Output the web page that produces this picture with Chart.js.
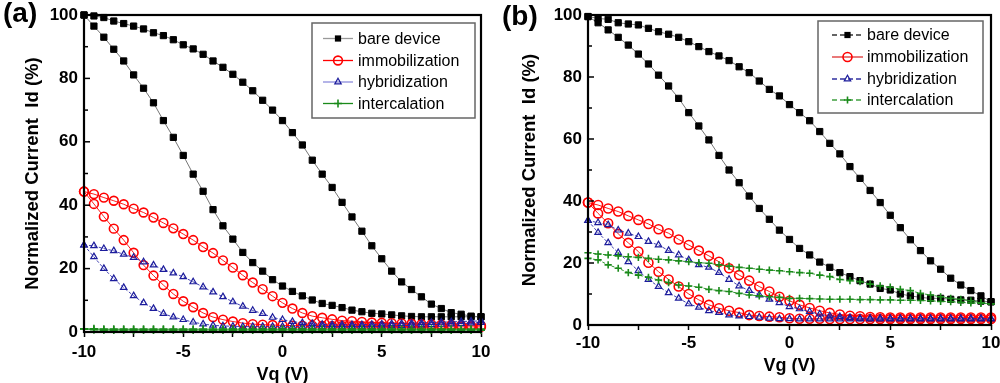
<!DOCTYPE html>
<html>
<head>
<meta charset="utf-8">
<script src="https://cdn.jsdelivr.net/npm/chart.js@4/dist/chart.umd.min.js"></script>
<style>
  html, body { margin:0; padding:0; background:#fff; overflow:hidden; }
  #wrap { position:relative; width:1000px; height:383px; }
  canvas { position:absolute; top:0; }
  .lab { position:absolute; font-family:"Liberation Sans", Arial, sans-serif; font-weight:bold; font-size:28px; line-height:28px; color:#000; }
</style>
</head>
<body>
<div id="wrap">
  <canvas id="ca" width="500" height="383" style="left:0;width:500px;height:383px"></canvas>
  <canvas id="cb" width="500" height="383" style="left:500px;width:500px;height:383px"></canvas>
  <div class="lab" style="left:3px;top:-1px">(a)</div>
  <div class="lab" style="left:502px;top:2px">(b)</div>
</div>
<script>
// ---------------- data ----------------
const vg = [-10,-9.5,-9,-8.5,-8,-7.5,-7,-6.5,-6,-5.5,-5,-4.5,-4,-3.5,-3,-2.5,-2,-1.5,-1,-0.5,0,0.5,1,1.5,2,2.5,3,3.5,4,4.5,5,5.5,6,6.5,7,7.5,8,8.5,9,9.5,10];
const seriesNames = ['bare device','immobilization','hybridization','intercalation'];
const xTickLabels = [-10,-5,0,5,10];
const yTickLabels = [0,20,40,60,80,100];

// panel (a)
const a_bareUp = [100,99.7,99.2,98.1,97.3,96.5,95.6,94.4,93.5,92.2,90.6,89.3,87.6,85.5,83.5,81.3,78.8,76.1,73.1,70.0,66.7,62.9,59.0,54.2,49.8,45.6,40.9,36.3,31.8,27.2,23.1,19.2,15.8,13.4,11.1,8.8,7.4,6.1,5.6,5.0,4.8];
const a_bareLo = [100,96.5,93.0,89.2,85.5,81.1,76.9,72.3,66.7,61.4,55.7,49.8,44.4,38.6,33.5,29.3,25.1,21.9,19.2,16.5,14.5,12.8,11.4,10.1,9.0,8.4,7.7,6.9,6.4,5.9,5.7,5.4,5.1,4.9,4.8,4.8,4.8,4.8,4.8,4.8,4.8];
const a_immUp = [44.3,43.5,42.4,41.4,40.3,38.9,37.7,36.1,34.4,32.7,30.9,29.0,26.8,24.9,22.6,20.3,17.9,15.6,13.5,11.3,9.2,7.4,6.0,5.0,4.5,4.0,3.6,3.4,3.2,3.0,2.9,2.8,2.7,2.6,2.5,2.4,2.3,2.2,2.1,2.0,2.0];
const a_immLo = [44.3,40.4,36.4,32.6,29.0,25.0,21.1,17.8,14.8,12.0,9.7,7.8,6.0,4.7,3.9,3.3,2.8,2.5,2.3,2.2,2.1,2.0,2.0,2.0,1.9,1.9,1.9,1.8,1.8,1.8,1.8,1.7,1.7,1.7,1.7,1.7,1.6,1.6,1.6,1.6,1.6];
const a_hybUp = [27.4,27.2,26.3,25.6,24.5,23.5,22.1,21.1,19.7,18.6,17.4,15.8,14.2,12.6,11.1,9.5,8.1,6.8,5.8,4.6,3.9,3.3,2.9,2.6,2.4,2.3,2.3,2.3,2.3,2.4,2.5,2.6,2.7,2.8,2.9,3.0,3.1,3.2,3.3,3.4,3.5];
const a_hybLo = [27.4,23.7,20.0,16.8,14.0,11.4,9.2,7.4,5.8,4.7,3.9,3.1,2.5,2.1,1.9,1.8,1.7,1.7,1.7,1.7,1.7,1.7,1.7,1.7,1.7,1.7,1.7,1.7,1.7,1.7,1.8,1.9,2.0,2.1,2.2,2.3,2.4,2.5,2.6,2.8,3.0];
const a_intUp = [1.0,1.0,0.9,0.9,0.9,0.9,0.9,0.9,0.9,0.9,0.9,0.9,0.9,0.9,0.9,0.9,0.9,0.9,0.9,0.9,0.9,0.9,0.9,0.9,0.9,0.9,0.9,0.9,0.9,0.9,0.9,0.9,0.9,0.9,0.9,0.9,0.9,0.9,0.9,0.9,0.9];
const a_intLo = [1.0,0.7,0.6,0.6,0.6,0.6,0.6,0.6,0.6,0.6,0.6,0.6,0.6,0.6,0.6,0.6,0.6,0.6,0.6,0.6,0.6,0.6,0.6,0.6,0.6,0.6,0.6,0.6,0.6,0.6,0.6,0.6,0.6,0.6,0.6,0.6,0.6,0.6,0.6,0.6,0.6];

// panel (b)
const b_bareUp = [99.5,98.9,98.6,97.5,97.1,96.8,95.7,94.6,93.8,92.8,91.4,89.8,88.2,86.8,85.3,83.3,81.4,78.7,76.0,73.9,71.1,68.5,65.9,62.4,58.6,55.2,51.1,47.3,43.4,39.5,35.4,31.4,27.5,24.0,20.7,18.0,15.1,12.9,11.1,9.4,7.5];
const b_bareLo = [99.5,97.5,95.2,92.8,90.3,87.4,84.2,80.6,77.1,73.1,68.5,64.2,59.7,54.7,50.0,45.9,41.6,37.6,34.1,30.6,27.6,24.7,22.6,20.3,18.6,16.9,15.6,14.3,13.2,11.8,11.3,10.0,9.4,8.9,8.6,8.6,8.3,8.1,8.0,7.7,7.5];
const b_immUp = [39.5,38.7,37.6,36.6,35.2,33.9,32.6,30.9,29.6,27.6,25.8,24.0,22.3,20.4,18.3,16.1,14.3,12.4,10.8,9.1,7.8,6.5,5.5,4.6,3.9,3.4,3.0,2.8,2.6,2.5,2.4,2.4,2.4,2.4,2.4,2.4,2.4,2.4,2.4,2.4,2.4];
const b_immLo = [39.5,36.0,32.8,29.4,26.5,23.7,20.1,17.2,14.7,12.4,10.0,8.1,6.5,5.4,4.6,4.0,3.2,2.9,2.7,2.5,2.2,2.0,2.0,2.0,1.9,1.9,1.9,1.9,1.9,1.9,1.9,1.9,1.9,1.9,1.9,1.9,1.9,1.9,1.9,1.9,1.9];
const b_hybUp = [33.7,33.0,32.3,30.6,29.6,28.5,26.9,25.8,24.0,22.6,21.0,19.4,18.6,16.9,14.7,12.6,11.1,9.7,8.3,7.2,5.9,5.2,4.3,3.5,2.9,2.7,2.4,2.2,2.2,2.2,2.1,2.1,2.1,2.1,2.1,2.1,2.1,2.1,2.1,2.1,2.1];
const b_hybLo = [33.7,29.8,26.5,23.3,20.4,17.5,14.7,12.4,10.4,8.6,6.8,5.7,4.6,4.0,3.2,2.9,2.7,2.5,2.2,2.0,2.0,1.9,1.9,1.9,1.9,1.9,1.9,1.9,1.9,1.9,1.9,1.9,1.9,1.9,1.9,1.9,1.9,1.9,1.9,1.9,1.9];
const b_intUp = [23.3,22.9,22.6,22.3,22.0,21.8,21.5,21.2,21.0,20.7,20.4,20.1,19.9,19.4,19.0,18.6,18.3,18.0,17.7,17.5,17.2,16.9,16.7,16.1,15.6,14.7,14.3,14.0,13.2,12.6,12.2,11.5,11.1,10.2,9.7,9.1,8.6,8.3,7.8,7.2,6.8];
const b_intLo = [21.5,21.0,19.4,18.3,16.9,16.1,15.4,14.5,13.7,12.9,12.6,12.2,11.5,11.1,10.8,10.2,9.7,9.4,9.1,8.9,8.6,8.6,8.5,8.4,8.3,8.3,8.3,8.2,8.2,8.1,8.1,8.0,8.0,7.9,7.8,7.6,7.5,7.3,7.1,7.0,6.8];

// ---------------- styling ----------------
const FONT = '"Liberation Sans", Arial, sans-serif';
Chart.defaults.font.family = FONT;
Chart.defaults.color = '#000';

const stylesA = [
  {line:'#666', dash:[], marker:'rect', r:4.4, stroke:'#000', fill:'#000', bw:1, legendLine:'#999', order:3},
  {line:'#ff0000', dash:[], marker:'circle', r:4.4, stroke:'#ff0000', fill:'rgba(0,0,0,0)', bw:1.6, legendLine:'#ff0000', order:2},
  {line:'#2a2aa8', dash:[3,2], marker:'triangle', r:3.7, stroke:'#1c1c9c', fill:'rgba(0,0,0,0)', bw:1.2, legendLine:'#8c8cdc', order:1},
  {line:'#1a8a1a', dash:[], marker:'cross', r:4, stroke:'#1a8a1a', fill:'#1a8a1a', bw:1.6, legendLine:'#1a8a1a', order:0}
];
const stylesB = [
  {line:'#666', dash:[], marker:'rect', r:4.4, stroke:'#000', fill:'#000', bw:1, legendLine:'#333', legendDash:[5,3], order:3},
  {line:'#ff0000', dash:[], marker:'circle', r:4.5, stroke:'#ff0000', fill:'rgba(0,0,0,0)', bw:1.6, legendLine:'#dd3030', legendDash:[], order:2},
  {line:'#2a2aa8', dash:[3,2], marker:'triangle', r:3.7, stroke:'#1c1c9c', fill:'rgba(0,0,0,0)', bw:1.2, legendLine:'#3030a0', legendDash:[5,3], order:1},
  {line:'#1a8a1a', dash:[3,2], marker:'cross', r:3.6, stroke:'#1a8a1a', fill:'#1a8a1a', bw:1.6, legendLine:'#40a040', legendDash:[5,3], order:0}
];

function mkDatasets(branches, styles) {
  const out = [];
  branches.forEach((pair, si) => {
    const st = styles[si];
    pair.forEach((ys, bi) => {
      out.push({
        label: seriesNames[si],
        legendShow: bi === 0,
        sty: st,
        data: vg.map((x, i) => ({x: x, y: ys[i]})),
        showLine: true,
        borderColor: st.line,
        borderWidth: 0.9,
        borderDash: st.dash,
        pointStyle: st.marker,
        pointRadius: st.r,
        pointBorderColor: st.stroke,
        pointBackgroundColor: st.fill,
        pointBorderWidth: st.bw,
        tension: 0,
        order: st.order,
        clip: 6
      });
    });
  });
  return out;
}

function drawMarker(ctx, st, x, y) {
  ctx.save();
  ctx.setLineDash([]);
  ctx.lineWidth = st.bw;
  ctx.strokeStyle = st.stroke;
  ctx.fillStyle = st.fill;
  const r = st.r;
  ctx.beginPath();
  if (st.marker === 'rect') {
    const s = r * Math.SQRT1_2;
    ctx.rect(x - s, y - s, 2 * s, 2 * s);
    ctx.fill();
  } else if (st.marker === 'circle') {
    ctx.arc(x, y, r, 0, Math.PI * 2);
    ctx.stroke();
  } else if (st.marker === 'triangle') {
    ctx.moveTo(x, y - r);
    ctx.lineTo(x + r * 0.866, y + r * 0.5);
    ctx.lineTo(x - r * 0.866, y + r * 0.5);
    ctx.closePath();
    ctx.stroke();
  } else if (st.marker === 'cross') {
    ctx.moveTo(x - r, y); ctx.lineTo(x + r, y);
    ctx.moveTo(x, y - r); ctx.lineTo(x, y + r);
    ctx.stroke();
  }
  ctx.restore();
}

const framePlugin = {
  id: 'frame',
  afterDraw(chart, args, opts) {
    const {ctx, chartArea: {left, right, top, bottom}, scales: {y}} = chart;
    ctx.save();
    // inward y ticks
    ctx.strokeStyle = '#000';
    ctx.lineWidth = 1.5;
    for (let v = 10; v < 100; v += 10) {
      const py = y.getPixelForValue(v);
      const len = (v % 20 === 0) ? 6 : 4;
      ctx.beginPath(); ctx.moveTo(left, py); ctx.lineTo(left + len, py); ctx.stroke();
    }
    // frame
    ctx.lineWidth = 2.2;
    ctx.strokeRect(left, top, right - left, bottom - top);
    // legend
    const L = opts.legend;
    ctx.fillStyle = '#fff';
    ctx.fillRect(L.x, L.y, L.w, L.h);
    ctx.strokeStyle = '#666';
    ctx.lineWidth = 1.5;
    ctx.strokeRect(L.x, L.y, L.w, L.h);
    const items = chart.data.datasets.filter(d => d.legendShow);
    ctx.font = '16px ' + FONT;
    ctx.textBaseline = 'middle';
    ctx.textAlign = 'left';
    items.forEach((d, i) => {
      const ry = L.rows[i];
      const st = d.sty;
      ctx.save();
      ctx.strokeStyle = st.legendLine;
      ctx.lineWidth = 1.3;
      ctx.setLineDash(st.legendDash || []);
      ctx.beginPath(); ctx.moveTo(L.lx1, ry); ctx.lineTo(L.lx2, ry); ctx.stroke();
      ctx.restore();
      drawMarker(ctx, st, (L.lx1 + L.lx2) / 2, ry);
      ctx.fillStyle = '#000';
      ctx.fillText(d.label, L.tx, ry + 1);
    });
    ctx.restore();
  }
};

function makeChart(id, datasets, cfg) {
  return new Chart(document.getElementById(id), {
    type: 'scatter',
    data: { datasets: datasets },
    plugins: [framePlugin],
    options: {
      responsive: false,
      animation: false,
      events: [],
      layout: { padding: { left: 0, right: cfg.padRight, top: 15, bottom: 0 } },
      plugins: {
        legend: { display: false },
        tooltip: { enabled: false },
        frame: { legend: cfg.legend }
      },
      scales: {
        x: {
          type: 'linear', min: -10, max: 10,
          border: { display: false },
          grid: { drawOnChartArea: false, drawTicks: true, tickLength: 5, tickColor: '#000', tickWidth: 1.5 },
          ticks: {
            stepSize: 2.5, autoSkip: false, maxRotation: 0, padding: cfg.xTickPad,
            font: { size: 17, weight: 'bold' }, color: '#000',
            callback: v => xTickLabels.includes(v) ? String(v) : ''
          },
          title: { display: true, text: cfg.xTitle, font: { size: 18, weight: 'bold' }, color: '#000', padding: { top: 0, bottom: cfg.xTitlePad } },
          afterFit: s => { s.height = cfg.xHeight; s.paddingLeft = 0; s.paddingRight = 0; }
        },
        y: {
          type: 'linear', min: 0, max: 100,
          border: { display: false },
          grid: { display: true, drawOnChartArea: false, drawTicks: false },
          ticks: {
            stepSize: 10, autoSkip: false, padding: 6,
            font: { size: 17, weight: 'bold' }, color: '#000',
            callback: v => yTickLabels.includes(v) ? String(v) : ''
          },
          title: { display: true, text: 'Normalized Current  Id (%)', font: { size: 18.5, weight: 'bold' }, color: '#000', padding: { top: cfg.yTitlePad, bottom: 0 } },
          afterFit: s => { s.width = cfg.yWidth; s.paddingTop = 0; s.paddingBottom = 0; }
        }
      }
    }
  });
}

makeChart('ca', mkDatasets([[a_bareUp, a_bareLo], [a_immUp, a_immLo], [a_hybUp, a_hybLo], [a_intUp, a_intLo]], stylesA), {
  padRight: 19, yWidth: 84, xHeight: 51, xTickPad: 5, xTitle: 'Vq (V)', xTitlePad: -3, yTitlePad: 22,
  legend: { x: 312, y: 23, w: 163, h: 95, lx1: 323, lx2: 353, tx: 358, rows: [38.5, 60.5, 82, 103.5] }
});
makeChart('cb', mkDatasets([[b_bareUp, b_bareLo], [b_immUp, b_immLo], [b_hybUp, b_hybLo], [b_intUp, b_intLo]], stylesB), {
  padRight: 9, yWidth: 88, xHeight: 58, xTickPad: 3, xTitle: 'Vg (V)', xTitlePad: 6, yTitlePad: 19,
  legend: { x: 318, y: 21, w: 165, h: 92, lx1: 332, lx2: 363, tx: 367, rows: [35, 57, 79, 100] }
});
</script>
</body>
</html>
